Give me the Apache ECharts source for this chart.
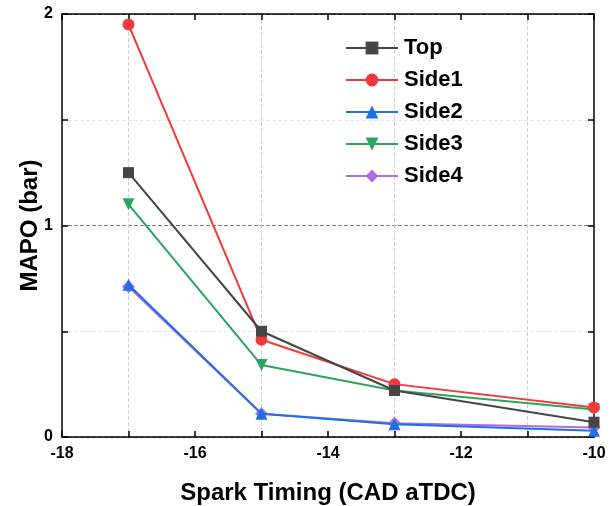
<!DOCTYPE html>
<html><head><meta charset="utf-8">
<script src="https://cdn.jsdelivr.net/npm/echarts@6/dist/echarts.min.js"></script>
<style>html,body{margin:0;padding:0;background:#fff}#c{width:615px;height:506px}</style>
</head><body><div id="c"></div>
<script>
const xValues = [-17, -15, -13, -10];
const seriesNames = ['Top', 'Side1', 'Side2', 'Side3', 'Side4'];
const topVals = [1.25, 0.50, 0.22, 0.07];
const side1Vals = [1.95, 0.46, 0.25, 0.14];
const side2Vals = [0.72, 0.11, 0.06, 0.03];
const side3Vals = [1.10, 0.34, 0.22, 0.13];
const side4Vals = [0.71, 0.11, 0.065, 0.045];

const allVals = [topVals, side1Vals, side2Vals, side3Vals, side4Vals];
const colors = ['#454545', '#f23a3a', '#1f6fe5', '#2ea35f', '#b06de0'];
const symbols = ['rect', 'circle', 'triangle', 'triangle', 'diamond'];
const rotates = [0, 0, 0, 180, 0];
const sizes = [11, 12, 12, 12, 13];
const font = 'Liberation Sans, Arial, sans-serif';

const tickStyle = {color: '#000', width: 1.5};
function xAx(pos, main) {
  return {
    type: 'value', min: -18, max: -10, interval: 2, position: pos,
    name: main ? 'Spark Timing (CAD aTDC)' : '', nameLocation: 'middle', nameGap: 44,
    nameMoveOverlap: false,
    nameTextStyle: {fontFamily: font, fontWeight: 'bold', fontSize: 24, color: '#000'},
    axisLine: {show: true, onZero: false, lineStyle: tickStyle},
    axisTick: {show: true, inside: true, length: 6, lineStyle: tickStyle},
    minorTick: {show: true, splitNumber: 2, length: 6, lineStyle: tickStyle},
    splitLine: {show: false},
    minorSplitLine: {show: main, lineStyle: {color: '#cfcfcf', type: 'dashed', width: 1}},
    axisLabel: {show: main, fontFamily: font, fontWeight: 'bold', fontSize: 16, color: '#000', margin: 9}
  };
}
function yAx(pos, main) {
  return {
    type: 'value', min: 0, max: 2, interval: 1, position: pos,
    name: main ? 'MAPO (bar)' : '', nameLocation: 'middle', nameGap: 20,
    nameMoveOverlap: false,
    nameTextStyle: {fontFamily: font, fontWeight: 'bold', fontSize: 24, color: '#000'},
    axisLine: {show: true, onZero: false, lineStyle: tickStyle},
    axisTick: {show: true, inside: true, length: 6, lineStyle: tickStyle},
    minorTick: {show: true, splitNumber: 2, length: 6, lineStyle: tickStyle},
    splitLine: {show: main, lineStyle: {color: '#7a7a7a', type: 'dashed', width: 1}},
    minorSplitLine: {show: main, lineStyle: {color: '#e6e6e6', type: 'dashed', width: 1}},
    axisLabel: {show: main, fontFamily: font, fontWeight: 'bold', fontSize: 16, color: '#000', margin: 9}
  };
}

const chart = echarts.init(document.getElementById('c'));
chart.setOption({
  backgroundColor: '#fff',
  animation: false,
  grid: {left: 62, right: 21, top: 14, bottom: 69, outerBoundsMode: 'none', containLabel: false},
  legend: {
    left: 340, top: 32, orient: 'vertical', itemWidth: 52, itemHeight: 16, itemGap: 10,
    textStyle: {fontFamily: font, fontWeight: 'bold', fontSize: 22, color: '#000', padding: [0,0,0,1]},
    data: seriesNames
  },
  xAxis: [xAx('bottom', true), xAx('top', false)],
  yAxis: [yAx('left', true), yAx('right', false)],
  series: seriesNames.map((n, i) => ({
    name: n, type: 'line',
    data: xValues.map((x, j) => [x, allVals[i][j]]),
    symbol: symbols[i], symbolRotate: rotates[i], symbolSize: sizes[i],
    showAllSymbol: true,
    lineStyle: {color: colors[i], width: 2},
    itemStyle: {color: colors[i]},
    z: 10 - i
  }))
});
</script></body></html>
